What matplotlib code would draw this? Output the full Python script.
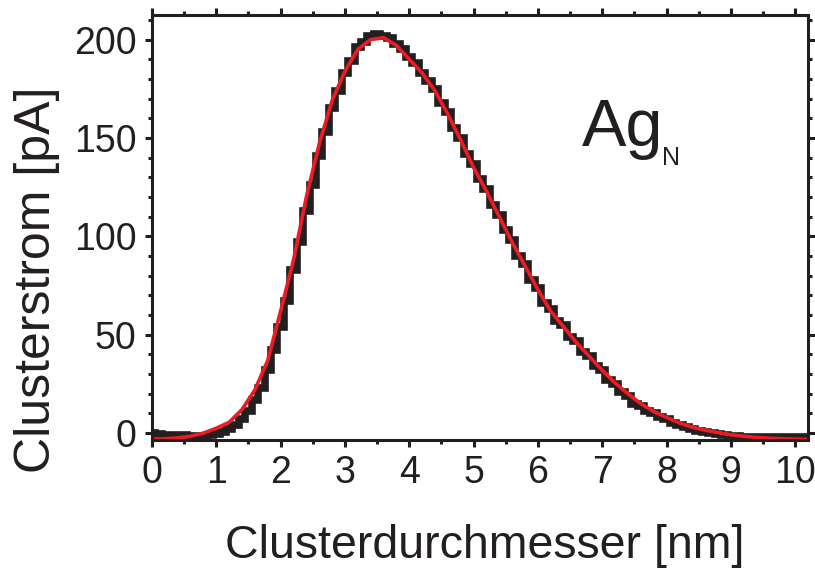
import matplotlib
matplotlib.use("Agg")
import matplotlib.pyplot as plt
import numpy as np
from matplotlib.ticker import MultipleLocator

plt.rcParams['font.family'] = ['Liberation Sans', 'DejaVu Sans']

# measured cluster current (histogram-like data), 0.1 nm bins
data_x = [round(0.1 * i, 1) for i in range(103)]
data_y = [0, -0.5, -1, -1, -1, -1, -1.5, -1.5, -1.5, -1,
          -0.5, 0.5, 2, 4, 7, 11, 17, 23, 32, 42,
          54, 67, 83, 97, 113, 126, 141, 153, 165, 174,
          183, 189, 196, 199, 202, 203, 202, 201, 198, 195,
          191, 188, 183, 179, 175, 168, 163, 155, 150, 142,
          137, 129, 124, 116, 111, 103, 98, 90, 86, 78,
          74, 66, 63, 57, 55, 49, 47, 41, 39, 34,
          32, 27, 25, 21, 19, 15, 14, 11, 10, 8,
          7, 5, 4, 3, 2, 1, 0.5, 0, -0.5, -1,
          -1.5, -1.5, -2, -2, -2, -2, -2, -2, -2, -2,
          -2, -2, -2]

# fit curve
fit_x = [0.0, 0.2, 0.4, 0.6, 0.8, 1.0, 1.2, 1.4, 1.6, 1.8,
         2.0, 2.2, 2.4, 2.6, 2.8, 3.0, 3.2, 3.4, 3.6, 3.8,
         4.0, 4.2, 4.4, 4.6, 4.8, 5.0, 5.2, 5.4, 5.6, 5.8,
         6.0, 6.2, 6.4, 6.6, 6.8, 7.0, 7.2, 7.4, 7.6, 7.8,
         8.0, 8.2, 8.4, 8.6, 8.8, 9.0, 9.2, 9.4, 9.6, 9.8,
         10.0, 10.2]
fit_y = [-3.2, -2.9, -2.4, -1.6, 0.0, 2.5, 5.5, 12, 22, 37,
         62, 88, 120, 147, 169, 184, 195, 200, 201, 197,
         190, 183, 174, 162, 149, 135, 123, 110, 97, 85,
         73, 62, 54, 46, 39, 32, 25.5, 20, 15, 11,
         8, 5.2, 3, 1.5, 0.3, -0.8, -1.6, -2.2, -2.6, -2.9,
         -3.1, -3.2]

x_ticks = [0, 1, 2, 3, 4, 5, 6, 7, 8, 9, 10]
y_ticks = [0, 50, 100, 150, 200]

dark = '#231f20'
red = '#ed1c24'

fig = plt.figure(figsize=(8.15, 5.72), dpi=100)
ax = fig.add_axes([152/815, 1-440/572, 656/815, 425/572])

ax.step(data_x, data_y, where='mid', color=dark, lw=5.5, solid_joinstyle='miter')
ax.plot(data_x, data_y, ls='none', marker='s', ms=5, color=dark, mew=0)
ax.plot(fit_x, fit_y, color=red, lw=2.6)

ax.set_xlim(0, 10.2)
ax.set_ylim(-3.5, 212.5)
ax.set_xticks(x_ticks)
ax.set_yticks(y_ticks)
ax.xaxis.set_minor_locator(MultipleLocator(0.5))
ax.yaxis.set_minor_locator(MultipleLocator(10))

for s in ax.spines.values():
    s.set_linewidth(2.2)
    s.set_color(dark)

ax.tick_params(which='both', direction='out', top=True, right=True,
               labeltop=False, labelright=False, color=dark, width=2.2)
ax.tick_params(which='major', length=5, labelsize=27, labelcolor=dark)
ax.tick_params(axis='x', which='major', pad=6)
ax.tick_params(axis='y', which='major', pad=6)
ax.tick_params(which='minor', length=2.8)

ax.set_xlabel('Clusterdurchmesser [nm]', fontsize=33.5, color=dark)
ax.xaxis.set_label_coords(0.5 + 5/656, -0.198)
ax.set_ylabel('Clusterstrom [pA]', fontsize=36, color=dark)
ax.yaxis.set_label_coords(-0.14, 0.376)

fig.text(582/815, 1-146/572, 'Ag', fontsize=48, color=dark, va='baseline', ha='left')
fig.text(662/815, 1-165/572, 'N', fontsize=18, color=dark, va='baseline', ha='left')

fig.savefig('out.png', dpi=100)
